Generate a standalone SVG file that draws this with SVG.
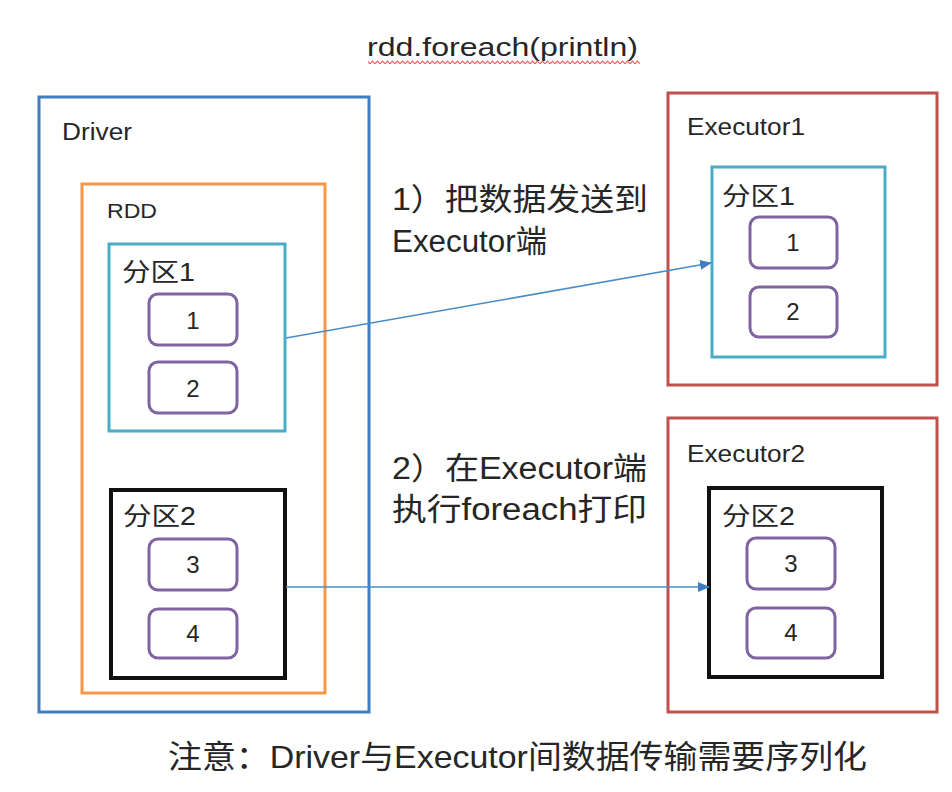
<svg xmlns="http://www.w3.org/2000/svg" width="952" height="792" viewBox="0 0 952 792">
<defs>
<style>
text{font-family:"Liberation Sans","Noto Sans CJK SC",sans-serif;fill:#262626;}
.box{fill:none;}
.drv{stroke:#3F7EBF;stroke-width:3;}
.rdd{stroke:#F79646;stroke-width:3;}
.p1{stroke:#4BACC6;stroke-width:3;}
.p2{stroke:#111;stroke-width:4;}
.ex{stroke:#C0504D;stroke-width:3;}
.item{fill:#fff;stroke:#8064A2;stroke-width:3;}
.lbl{font-size:23px;}
.num{font-size:24px;text-anchor:middle;}
.big{font-size:31px;}
.conn{stroke:#4A8CC8;stroke-width:1.6;fill:none;marker-end:url(#ah);}
</style>
<marker id="ah" viewBox="0 0 12 10" refX="11" refY="5" markerWidth="12" markerHeight="10" markerUnits="userSpaceOnUse" orient="auto">
<path d="M0,0 L12,5 L0,10 Z" fill="#3F7EBF"/>
</marker>
<pattern id="wave" x="0" y="0" width="5" height="5" patternUnits="userSpaceOnUse">
<path d="M0,3.8 L2.5,1.2 L5,3.8" fill="none" stroke="#F05A5A" stroke-width="1.2"/>
</pattern>
</defs>
<rect width="952" height="792" fill="#fff"/>

<g id="title">
<text x="367" y="56" font-size="26" textLength="271" lengthAdjust="spacingAndGlyphs">rdd.foreach(println)</text>
<rect x="368" y="59" width="272" height="5" fill="url(#wave)"/>
</g>

<g id="driver">
<rect class="box drv" x="39" y="97" width="330" height="615"/>
<text class="lbl" x="62" y="140" textLength="70" lengthAdjust="spacingAndGlyphs">Driver</text>
</g>
<g id="rdd">
<rect class="box rdd" x="82" y="184" width="243" height="509"/>
<text x="107" y="218" font-size="21" textLength="50" lengthAdjust="spacingAndGlyphs">RDD</text>
</g>
<g id="driver-p1">
<rect class="box p1" x="109" y="244" width="176" height="187"/>
<text x="122" y="281" font-size="25" textLength="73" lengthAdjust="spacingAndGlyphs">分区1</text>
</g>
<g id="driver-item1"><rect class="item" x="149" y="294" width="88" height="51" rx="9"/><text class="num" x="193" y="329">1</text></g>
<g id="driver-item2"><rect class="item" x="149" y="362" width="88" height="51" rx="9"/><text class="num" x="193" y="397">2</text></g>
<g id="driver-p2">
<rect class="box p2" x="111" y="490" width="174" height="188"/>
<text x="123" y="525" font-size="25" textLength="73" lengthAdjust="spacingAndGlyphs">分区2</text>
</g>
<g id="driver-item3"><rect class="item" x="149" y="539" width="88" height="51" rx="9"/><text class="num" x="193" y="573">3</text></g>
<g id="driver-item4"><rect class="item" x="149" y="609" width="88" height="49" rx="9"/><text class="num" x="193" y="642">4</text></g>

<g id="executor1">
<rect class="box ex" x="668" y="93" width="269" height="292"/>
<text class="lbl" x="687" y="135" textLength="118" lengthAdjust="spacingAndGlyphs">Executor1</text>
</g>
<g id="exec1-p1">
<rect class="box p1" x="712" y="167" width="173" height="190"/>
<text x="722" y="205" font-size="25" textLength="73" lengthAdjust="spacingAndGlyphs">分区1</text>
</g>
<g id="exec1-item1"><rect class="item" x="750" y="217" width="87" height="51" rx="9"/><text class="num" x="793" y="251">1</text></g>
<g id="exec1-item2"><rect class="item" x="750" y="287" width="87" height="50" rx="9"/><text class="num" x="793" y="320">2</text></g>

<g id="executor2">
<rect class="box ex" x="668" y="418" width="269" height="294"/>
<text class="lbl" x="687" y="462" textLength="118" lengthAdjust="spacingAndGlyphs">Executor2</text>
</g>
<g id="exec2-p2">
<rect class="box p2" x="709" y="488" width="173" height="189"/>
<text x="722" y="525" font-size="25" textLength="73" lengthAdjust="spacingAndGlyphs">分区2</text>
</g>
<g id="exec2-item3"><rect class="item" x="747" y="538" width="88" height="51" rx="9"/><text class="num" x="791" y="572">3</text></g>
<g id="exec2-item4"><rect class="item" x="747" y="608" width="88" height="50" rx="9"/><text class="num" x="791" y="641">4</text></g>

<g id="connectors">
<line class="conn" x1="286" y1="338" x2="711" y2="263"/>
<line class="conn" x1="286" y1="587" x2="709" y2="587"/>
</g>

<g id="step1">
<text class="big" x="392" y="210" textLength="256" lengthAdjust="spacingAndGlyphs">1）把数据发送到</text>
<text class="big" x="392" y="252" textLength="155" lengthAdjust="spacingAndGlyphs">Executor端</text>
</g>
<g id="step2">
<text class="big" x="392" y="479" textLength="255" lengthAdjust="spacingAndGlyphs">2）在Executor端</text>
<text class="big" x="392" y="520" textLength="255" lengthAdjust="spacingAndGlyphs">执行foreach打印</text>
</g>
<g id="note">
<text x="168" y="768" font-size="32" textLength="699" lengthAdjust="spacingAndGlyphs">注意：Driver与Executor间数据传输需要序列化</text>
</g>
</svg>
